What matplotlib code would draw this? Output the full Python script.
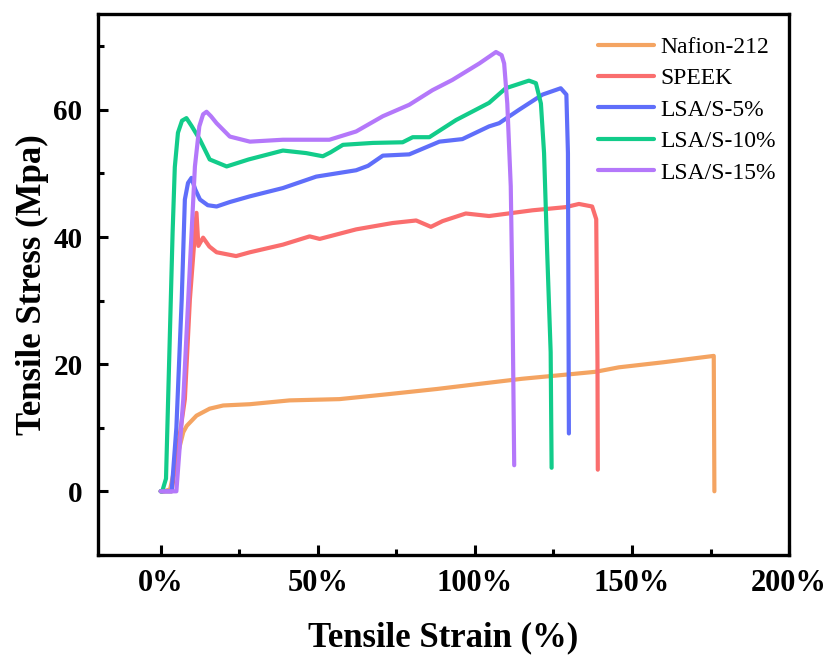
import matplotlib
matplotlib.use("Agg")
import matplotlib.pyplot as plt
from matplotlib.ticker import MultipleLocator, FuncFormatter

# strain (%) / stress (MPa)
nafion_x = [0, 1, 3, 5, 7.2, 8.3, 11.4, 15.6, 19.9, 28.4, 41, 56.9, 72.8, 88, 101.4,
            115, 130, 138.4, 145.8, 160, 176, 176.2]
nafion_y = [0, 0, 0.3, 5, 9.3, 10.3, 11.9, 13, 13.5, 13.7, 14.3, 14.5, 15.3, 16.1, 16.9,
            17.7, 18.4, 18.8, 19.5, 20.3, 21.3, 0]

speek_x = [0, 3.5, 7.7, 9.3, 10.5, 11.4, 12, 13.5, 15.5, 17.8, 24, 28.4, 38.9, 47.4,
           50.6, 62.2, 73.8, 81.3, 86, 89.7, 97.1, 104.5, 118.3, 128.9, 133.1, 137.3,
           138.6, 139.0, 139.1]
speek_y = [0, 0, 14.5, 30.2, 38, 43.8, 38.6, 39.9, 38.5, 37.6, 37, 37.6, 38.8, 40.1,
           39.7, 41.2, 42.2, 42.6, 41.6, 42.5, 43.7, 43.3, 44.2, 44.7, 45.2, 44.8,
           42.8, 20, 3.4]

s5_x = [0, 3.5, 5, 6.7, 7.7, 8.7, 9.8, 11, 12.5, 15, 17.8, 22, 28.4, 38.9, 49.5, 62.2,
        66, 70.7, 79.1, 88.7, 96, 104.5, 107.7, 114, 121.5, 127.3, 129.1, 129.6, 129.9]
s5_y = [0, 0, 10, 30.2, 45.9, 48.5, 49.3, 47.5, 45.9, 45, 44.8, 45.5, 46.4, 47.7, 49.5,
        50.5, 51.2, 52.8, 53, 55, 55.4, 57.4, 57.9, 60, 62.4, 63.4, 62.4, 53.2, 9.1]

s10_x = [0, 0.5, 1.7, 3.8, 4.5, 5.5, 6.8, 8.2, 9.8, 12.5, 15.6, 21, 28, 38.9, 46.3,
         51.6, 54, 58, 67.5, 77, 80.2, 85.5, 94, 104.5, 109.8, 117.2, 119.4, 121, 122,
         123, 124.1, 124.4]
s10_y = [0, 0, 2, 40.7, 51, 56.4, 58.3, 58.7, 57.5, 55.3, 52.2, 51.1, 52.2, 53.6, 53.2,
         52.7, 53.3, 54.5, 54.8, 54.9, 55.7, 55.7, 58.4, 61.1, 63.4, 64.6, 64.2, 61,
         53.2, 37.5, 21.9, 3.7]

s15_x = [0, 5, 7.2, 9.3, 10.9, 12.3, 13.5, 14.6, 16, 17.8, 22, 28.4, 38.9, 46.3, 53.7,
         62.2, 70.7, 79.1, 86.5, 92.8, 101.4, 106.7, 108.5, 109.3, 110.3, 111.4, 111.9,
         112.5]
s15_y = [0, 0, 14.5, 35.4, 51.1, 57.4, 59.3, 59.7, 59, 57.9, 55.8, 55, 55.3, 55.3, 55.3,
         56.6, 59, 60.8, 63.1, 64.7, 67.3, 69.1, 68.6, 67.3, 61, 48, 32.3, 4.1]

labels = ["Nafion-212", "SPEEK", "LSA/S-5%", "LSA/S-10%", "LSA/S-15%"]
colors = ["#F4A462", "#FA6E6E", "#5F6EFA", "#12CC8A", "#B478FA"]

plt.rcParams["font.family"] = "Liberation Serif"

fig = plt.figure(figsize=(8.36, 6.59), dpi=100)
ax = fig.add_axes([0.117, 0.158, 0.827, 0.820])

series = [(nafion_x, nafion_y), (speek_x, speek_y), (s5_x, s5_y), (s10_x, s10_y), (s15_x, s15_y)]
for (x, y), lab, c in zip(series, labels, colors):
    ax.plot(x, y, color=c, lw=3, label=lab, solid_capstyle="round", solid_joinstyle="round")

ax.set_xlim(-20, 200)
ax.set_ylim(-10, 75)
ax.xaxis.set_major_locator(MultipleLocator(50))
ax.xaxis.set_minor_locator(MultipleLocator(25))
ax.yaxis.set_major_locator(MultipleLocator(20))
ax.yaxis.set_minor_locator(MultipleLocator(10))
ax.xaxis.set_major_formatter(FuncFormatter(lambda v, p: "%d%%" % v))

ax.tick_params(which="both", direction="in", width=2.2, top=False, right=False)
ax.tick_params(which="major", length=7)
ax.tick_params(which="minor", length=4)
ax.tick_params(axis="x", pad=10)
ax.tick_params(axis="y", pad=11)
for lbl in ax.get_xticklabels():
    lbl.set_fontweight("bold")
    lbl.set_fontsize(22)
for lbl in ax.get_yticklabels():
    lbl.set_fontweight("bold")
    lbl.set_fontsize(21)
for s in ax.spines.values():
    s.set_linewidth(2.4)

ax.set_xlabel("Tensile Strain (%)", fontsize=25, fontweight="bold", labelpad=17)
ax.set_ylabel("Tensile Stress (Mpa)", fontsize=25, fontweight="bold", labelpad=3)

ax.legend(loc="upper left", bbox_to_anchor=(0.715, 0.945), bbox_transform=fig.transFigure,
          frameon=False, fontsize=17, handlelength=2.4, handletextpad=0.25,
          labelspacing=0.42, borderpad=0, borderaxespad=0)

fig.savefig("out.png", dpi=100)
